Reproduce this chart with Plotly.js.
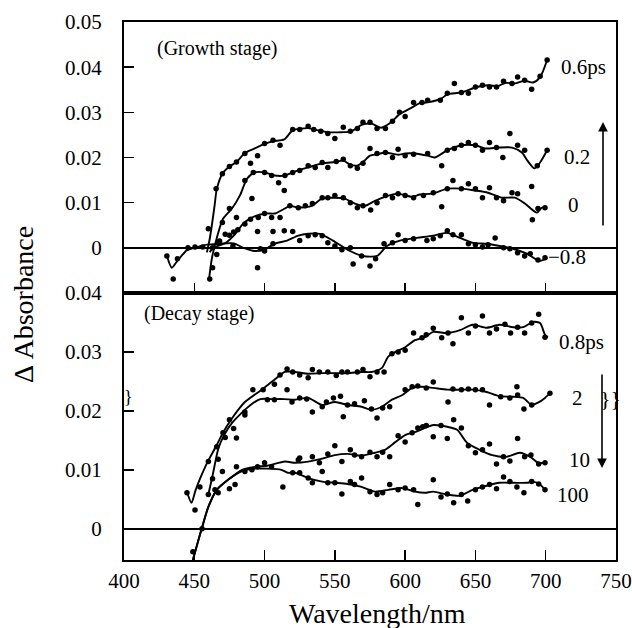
<!DOCTYPE html>
<html>
<head>
<meta charset="utf-8">
<script src="https://cdn.plot.ly/plotly-3.0.1.min.js"></script>
<style>html,body{margin:0;padding:0;background:#fff}#chart{width:632px;height:628px}</style>
</head>
<body>
<div id="chart"></div>
<script>
// ---------- Growth stage (top panel) ----------
const lineG06_wl = [459,461,462.5,464.5,466,470,475,480,486,493,500,506,514,520,531,538,545,555,562,569,576,583,590,596,605,610,616,626,630,640,650,659,666,671,678,685,691,696,701];
const lineG06_v  = [-0.001,0.002,0.005,0.0095,0.013,0.0164,0.018,0.019,0.021,0.022,0.023,0.0236,0.024,0.026,0.0265,0.026,0.0256,0.0256,0.0258,0.0272,0.0275,0.0266,0.0278,0.0296,0.0311,0.032,0.0322,0.0331,0.034,0.0344,0.0355,0.036,0.0358,0.0365,0.0364,0.037,0.0366,0.0378,0.0416];
const dotsG06 = [[460,0.0042],[465.5,0.0131],[470,0.0164],[475,0.018],[480,0.019],[486,0.0209],[490,0.0187],[495,0.0204],[500,0.0231],[506,0.0238],[511,0.0227],[520,0.0262],[525,0.0262],[531,0.0269],[535,0.0262],[540,0.0258],[545,0.0253],[550,0.0242],[556,0.0267],[561,0.0258],[566,0.0264],[570,0.0278],[575,0.0278],[580,0.0264],[586,0.0264],[591,0.028],[596,0.03],[600,0.0291],[606,0.0322],[612,0.0322],[616,0.0327],[625,0.0327],[630,0.0342],[635,0.0364],[640,0.0344],[645,0.0342],[650,0.0356],[655,0.036],[660,0.0356],[665,0.0356],[670,0.0369],[676,0.0364],[680,0.0378],[685,0.0371],[690,0.0351],[696,0.038],[701,0.0416]];

const lineG02_wl = [460.5,462.6,466,470.4,476.8,482.5,487.5,493,500,507,514.5,520,531,541,550,556,561,566,570,575,580,586,595,600,607,616,621,630,640,650,657,666,676,683,687,692,696,701];
const lineG02_v  = [-0.0069,-0.0022,0.0022,0.0064,0.0087,0.0116,0.0153,0.0167,0.0167,0.016,0.016,0.0167,0.0178,0.0187,0.019,0.0193,0.0184,0.0182,0.019,0.0204,0.0207,0.0211,0.0206,0.0209,0.0209,0.0204,0.02,0.0216,0.0227,0.0227,0.022,0.0222,0.0222,0.0211,0.0193,0.0176,0.0189,0.0216];
const dotsG02 = [[461,-0.0069],[463,-0.0044],[466,-0.0015],[470,0.0056],[475,0.0087],[480,0.0067],[486,0.0149],[491,0.0109],[492,0.0167],[500,0.0167],[505,0.016],[510,0.0144],[514.5,0.016],[520,0.0167],[525,0.0171],[531,0.0182],[536,0.0178],[541,0.0189],[545,0.0178],[551,0.0191],[556,0.0196],[561,0.0182],[566,0.0176],[570,0.0187],[575,0.022],[580,0.0209],[586,0.0211],[591,0.02],[595,0.0218],[600,0.0204],[606,0.0207],[616,0.0209],[626,0.0182],[630,0.0216],[635,0.022],[640,0.0227],[645,0.0233],[650,0.0227],[655,0.0216],[660,0.0233],[665,0.0222],[669.5,0.02],[674.5,0.0253],[680,0.0227],[685,0.0216],[694,0.0182],[701,0.0216]];

const lineG0_wl = [461,463.3,471.8,478.9,484.6,491,500.3,507.4,514.5,518,523.8,533.7,540.8,550,557,564.3,571.4,578.5,585.6,594.9,604.8,610.5,619,630.4,640.4,649.6,658.9,668.8,678,685.2,693.7,697.3,700.9];
const lineG0_v  = [-0.001,0,0.001,0.003,0.0053,0.0067,0.0076,0.0076,0.0087,0.0093,0.0089,0.0093,0.0109,0.0111,0.0109,0.0098,0.0093,0.0104,0.0113,0.012,0.0113,0.0118,0.012,0.0131,0.0131,0.0127,0.0122,0.0111,0.0111,0.0098,0.0078,0.0089,0.0089];
const dotsG0 = [[463,0],[468,0.0015],[472,0.003],[475,0.0028],[478,0.0035],[481,0.004],[486,0.0053],[490,0.0063],[495,0.0036],[495.5,0.0067],[500,0.0076],[505,0.0067],[506,0.0036],[511,0.0067],[514,0.0127],[518,0.0093],[524,0.0089],[529,0.0093],[534,0.0098],[541,0.0111],[545,0.0111],[550,0.0116],[556,0.0111],[561,0.01],[566,0.0089],[570,0.0093],[575.5,0.0084],[580,0.01],[586,0.0116],[591,0.0111],[595,0.012],[600,0.0116],[606,0.0111],[613,0.0116],[620,0.0122],[626,0.0091],[630,0.0131],[634,0.0149],[640,0.0131],[645,0.0142],[650,0.0131],[655,0.0111],[660,0.0133],[665,0.0111],[670,0.0104],[676,0.0122],[680,0.012],[690,0.0136],[690.5,0.0062],[694.5,0.0087],[699.5,0.0089]];

const lineGm08_wl = [430.6,434,437.7,444.8,450,459,468,478,485,493,500,507,516,524,531,539.4,548.6,560.7,569.9,580,587,596.3,608.4,619.8,629.7,639,648.2,658,667.4,676.7,686.6,695.9,701];
const lineGm08_v  = [-0.0018,-0.0044,-0.003,-0.0005,0,0.0007,0.0009,0.001,0,-0.0007,-0.0004,0.0009,0.0016,0.0027,0.0031,0.0031,0.0016,-0.0007,-0.0018,-0.0018,0.0004,0.0016,0.0022,0.0027,0.0033,0.0022,0.0011,0.0009,0.0004,-0.0002,-0.0013,-0.0029,-0.0022];
const dotsGm08 = [[430.5,-0.0018],[435,-0.0069],[438,-0.0024],[445.5,0],[450.5,0.0002],[456,0.0002],[467,0.0011],[477.5,0.0004],[495,-0.0044],[497,-0.0002],[500,-0.0007],[506,0.0009],[514,0.0038],[520,0.0036],[525,0.0016],[531,0.0027],[536,0.0029],[541,0.0027],[545,0.0011],[550,0.0004],[555,-0.0004],[561,0],[563,-0.0036],[569,-0.0018],[575,-0.004],[579,-0.0024],[585,0.0009],[591,0.0011],[595,0.0029],[600,0.0016],[606,0.002],[615.5,0.0016],[620,0.002],[625,0.0027],[630,0.0038],[634,0.0029],[640,0.0029],[645,0.0009],[650,0.0007],[655,0.0002],[659,0.0007],[664,0.0022],[670,0],[674.5,-0.0002],[680,-0.0011],[685,-0.0018],[689,-0.0013],[694.5,-0.0027],[699.5,-0.0022]];

// ---------- Decay stage (bottom panel) ----------
const lineD08_wl = [445,448,451,455,460,466,470.4,477,486,498,507,514.5,521.6,531,541,550,559,569,576,583.5,588,593,600,607,614,620,630,639,648,658,667,677,684,691,696,699.5,701.5];
const lineD08_v  = [0.0061,0.0044,0.0066,0.009,0.0116,0.0142,0.0163,0.0188,0.0215,0.0236,0.0253,0.0266,0.0266,0.0263,0.0264,0.0264,0.0264,0.0266,0.0266,0.0273,0.0292,0.03,0.0308,0.032,0.0325,0.0334,0.0332,0.0337,0.0346,0.0341,0.0346,0.0342,0.0342,0.0351,0.0349,0.0329,0.0325];
const dotsD08 = [[444.8,0.0061],[450.5,0.0032],[454,0.0071],[460,0.0114],[466,0.0139],[470.4,0.0163],[475,0.0185],[480,0.0154],[486,0.0193],[491.7,0.0236],[499,0.0236],[507,0.0245],[511,0.0261],[516,0.0271],[520,0.0266],[525,0.0261],[531,0.0256],[534,0.027],[539,0.0266],[545,0.0266],[551,0.026],[555,0.0266],[559,0.0266],[566,0.0266],[570,0.027],[575,0.0258],[580,0.0266],[585,0.0266],[590.6,0.0297],[595,0.03],[600,0.0303],[606,0.0332],[612,0.0324],[615,0.0329],[620,0.034],[626,0.0324],[630.5,0.0332],[634,0.0314],[640,0.0358],[645,0.0332],[650,0.0344],[655,0.0361],[660,0.0332],[665,0.0339],[671,0.0347],[675,0.0332],[680,0.0342],[685,0.0332],[690,0.0349],[695,0.0364],[699.5,0.0325]];

const lineD2_wl = [460,463,467,471,477,483,490,497,505,514,521.6,531,541,550,559,569,576,583.5,590.6,598,605,612,620,630,639,648,658,667,677,684,690,694.5,699.5,703];
const lineD2_v  = [0.0058,0.009,0.0135,0.0158,0.018,0.0195,0.021,0.022,0.022,0.022,0.0219,0.0222,0.021,0.0215,0.021,0.0207,0.0202,0.0207,0.0219,0.0227,0.0239,0.0241,0.0239,0.0236,0.0236,0.0236,0.0232,0.0225,0.0224,0.0222,0.021,0.0214,0.0222,0.023];
const dotsD2 = [[460,0.0058],[463,0.0085],[467,0.0118],[472,0.0155],[478,0.017],[486,0.0198],[502,0.0219],[507,0.0219],[516,0.0236],[519.5,0.0215],[525,0.0222],[530,0.022],[534,0.0198],[541,0.0207],[544,0.0215],[549,0.0222],[554,0.0225],[556,0.019],[559,0.021],[564,0.0212],[571,0.0217],[576,0.0203],[580,0.0188],[584,0.0205],[589,0.0207],[600,0.0236],[605,0.0241],[609,0.0242],[615,0.0239],[620,0.0249],[630.5,0.0215],[634,0.0237],[640,0.0236],[645,0.0237],[650,0.0236],[655,0.0236],[660,0.021],[668,0.0224],[674.5,0.0222],[679.5,0.0241],[680,0.0227],[684.5,0.0203],[690,0.021],[703,0.023]];

const lineD10_wl = [449,455.5,460,466,474,484,493,502,514.5,521.6,531,541,550,559,569,578.5,585.6,593,600,607,614,620,630,637,644,653,662,672,681.6,689,694.5,699.5];
const lineD10_v  = [-0.0053,0.0002,0.0037,0.0066,0.0083,0.01,0.0105,0.0107,0.0114,0.0112,0.0114,0.0119,0.0125,0.0127,0.0124,0.0129,0.0134,0.0147,0.0159,0.0164,0.0171,0.0176,0.0173,0.0168,0.0146,0.0134,0.0125,0.0122,0.0129,0.0122,0.0112,0.0112];
const dotsD10 = [[470,0.0097],[480,0.0105],[491,0.01],[500,0.0112],[524,0.0117],[525,0.012],[534,0.0122],[539,0.0112],[545,0.0127],[550,0.0141],[555,0.0114],[561,0.0134],[564,0.0125],[569,0.0122],[575,0.013],[580,0.0122],[584,0.013],[589,0.0122],[595,0.0158],[600,0.0147],[605,0.0163],[609,0.0171],[612.5,0.0173],[615,0.0175],[620,0.0156],[625.5,0.0175],[630,0.0153],[634.5,0.0185],[640,0.0171],[645,0.0141],[650,0.0129],[655,0.0134],[660,0.0144],[665,0.011],[670,0.0122],[674.5,0.0115],[680,0.0153],[685,0.0122],[689.5,0.0125],[695,0.011],[699.5,0.0112]];

const lineD100_wl = [449,455.5,460,466,474,484,493,502,512,516.6,521.6,531,541,550,559,569,578.5,588,598,607,614,620,630,639,648,658,667,677,686.6,691,696,699.5];
const lineD100_v  = [-0.0053,0.0002,0.0037,0.0066,0.0083,0.0098,0.0102,0.0102,0.01,0.0095,0.0095,0.0086,0.008,0.0078,0.0076,0.0071,0.0063,0.0066,0.0069,0.0063,0.0061,0.0063,0.0058,0.0056,0.0066,0.0073,0.0078,0.0078,0.0078,0.008,0.0075,0.0066];
const dotsD100 = [[449,-0.0039],[455.5,0],[464.7,0.0066],[467,0.0061],[475,0.0068],[479,0.0075],[486,0.0097],[495,0.0105],[505,0.0105],[513,0.0071],[520,0.0095],[525,0.0095],[531,0.0086],[534,0.0078],[541,0.0097],[545,0.0078],[550,0.0078],[555,0.0059],[561,0.008],[564,0.0075],[569,0.0086],[575,0.0063],[580,0.0058],[584,0.0061],[589,0.0075],[595,0.0066],[600,0.0069],[606,0.0066],[609,0.0041],[620,0.0083],[625.5,0.0054],[630,0.0059],[634.5,0.0044],[640,0.0058],[644.5,0.0047],[650,0.0066],[655,0.0071],[660,0.0075],[665,0.0068],[670,0.0088],[674.5,0.008],[679.5,0.0071],[684.5,0.0061],[690,0.008],[695,0.0076],[699.5,0.0066]];

const xTicks = [400,450,500,550,600,650,700,750];
const topTicks = [0,0.01,0.02,0.03,0.04,0.05];
const topTickText = ['0','0.01','0.02','0.03','0.04','0.05'];
const botTicks = [0,0.01,0.02,0.03,0.04];
const botTickText = ['0','0.01','0.02','0.03','0.04'];

const FONT = 'Liberation Serif, Times New Roman, serif';
const traces = [];
function addSeries(wl, v, dots, xa, ya) {
  traces.push({x: wl, y: v, xaxis: xa, yaxis: ya, mode: 'lines', type: 'scatter',
    line: {color: '#000', width: 1.9, shape: 'spline', smoothing: 0.7}, hoverinfo: 'skip'});
  traces.push({x: dots.map(d => d[0]), y: dots.map(d => d[1]), xaxis: xa, yaxis: ya,
    mode: 'markers', type: 'scatter', marker: {color: '#000', size: 5.5}, hoverinfo: 'skip'});
}
addSeries(lineG06_wl, lineG06_v, dotsG06, 'x2', 'y2');
addSeries(lineG02_wl, lineG02_v, dotsG02, 'x2', 'y2');
addSeries(lineG0_wl, lineG0_v, dotsG0, 'x2', 'y2');
addSeries(lineGm08_wl, lineGm08_v, dotsGm08, 'x2', 'y2');
addSeries(lineD08_wl, lineD08_v, dotsD08, 'x', 'y');
addSeries(lineD2_wl, lineD2_v, dotsD2, 'x', 'y');
addSeries(lineD10_wl, lineD10_v, dotsD10, 'x', 'y');
addSeries(lineD100_wl, lineD100_v, dotsD100, 'x', 'y');

const L = 124, T = 22, W = 492, H = 538;
const px = v => (v - L) / W;
const py = v => (T + H - v) / H;

const axBase = {showgrid: false, showline: true, linecolor: '#000', linewidth: 2, mirror: true,
  ticks: 'inside', ticklen: 10, tickwidth: 1.5, tickcolor: '#000',
  tickfont: {family: FONT, size: 21, color: '#000'}};

const ann = (text, x, y, anchor, size) => ({text, x: px(x), y: py(y), xref: 'paper', yref: 'paper',
  xanchor: anchor || 'left', yanchor: 'middle', showarrow: false,
  font: {family: FONT, size: size || 21, color: '#000'}});

const layout = {
  width: 632, height: 628,
  margin: {l: L, r: 16, t: T, b: 68},
  paper_bgcolor: '#fff', plot_bgcolor: '#fff',
  showlegend: false,
  xaxis: Object.assign({}, axBase, {range: [400, 750], tickvals: xTicks, anchor: 'y', domain: [0, 1], ticklabelstandoff: 1, zeroline: false}),
  xaxis2: Object.assign({}, axBase, {range: [400, 750], tickvals: xTicks, anchor: 'y2', domain: [0, 1], showticklabels: false, zeroline: false}),
  yaxis: Object.assign({}, axBase, {range: [-0.0053, 0.04], tickvals: botTicks, ticktext: botTickText, domain: [0, 0.4963], anchor: 'x', ticklabelstandoff: 16,
    zeroline: true, zerolinecolor: '#000', zerolinewidth: 1.6}),
  yaxis2: Object.assign({}, axBase, {range: [-0.01, 0.05], tickvals: topTicks, ticktext: topTickText, domain: [0.4963, 1], anchor: 'x2', ticklabelstandoff: 16,
    zeroline: true, zerolinecolor: '#000', zerolinewidth: 1.6}),
  annotations: [
    ann('(Growth stage)', 155, 48, 'left', 20),
    ann('(Decay stage)', 142, 313, 'left', 20),
    ann('0.6ps', 559, 67),
    ann('0.2', 562, 157),
    ann('0', 573, 205, 'center'),
    ann('\u22120.8', 546, 257),
    ann('0.8ps', 557, 342),
    ann('2', 577, 398, 'center'),
    ann('}}', 610, 398, 'center', 22),
    ann('}', 128, 397, 'center', 18),
    ann('10', 567, 460),
    ann('100', 555, 495),
    {text: 'Wavelength/nm', x: px(377), y: py(613), xref: 'paper', yref: 'paper', xanchor: 'center', yanchor: 'middle',
      showarrow: false, font: {family: FONT, size: 28, color: '#000'}},
    {text: '\u0394 Absorbance', x: px(23), y: py(305), xref: 'paper', yref: 'paper', xanchor: 'center', yanchor: 'middle',
      textangle: -90, showarrow: false, font: {family: FONT, size: 28, color: '#000'}},
    {text: '', x: px(603), y: py(122), xref: 'paper', yref: 'paper', showarrow: true, ax: 0, ay: 105,
      arrowhead: 2, arrowsize: 1.2, arrowwidth: 1.6, arrowcolor: '#000'},
    {text: '', x: px(602), y: py(468), xref: 'paper', yref: 'paper', showarrow: true, ax: 0, ay: -95,
      arrowhead: 2, arrowsize: 1.2, arrowwidth: 1.6, arrowcolor: '#000'}
  ]
};
Plotly.newPlot('chart', traces, layout, {displayModeBar: false, staticPlot: true});
</script>
</body>
</html>
